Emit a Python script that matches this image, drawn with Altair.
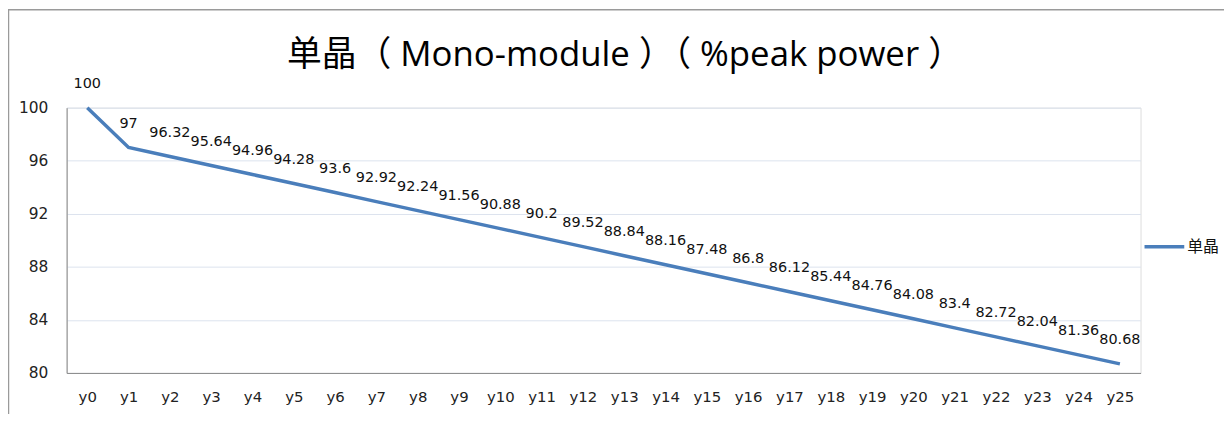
import altair as alt
import pandas as pd

years = ["y0", "y1", "y2", "y3", "y4", "y5", "y6", "y7", "y8", "y9", "y10", "y11", "y12",
         "y13", "y14", "y15", "y16", "y17", "y18", "y19", "y20", "y21", "y22", "y23", "y24", "y25"]
values = [100, 97, 96.32, 95.64, 94.96, 94.28, 93.6, 92.92, 92.24, 91.56, 90.88, 90.2, 89.52,
          88.84, 88.16, 87.48, 86.8, 86.12, 85.44, 84.76, 84.08, 83.4, 82.72, 82.04, 81.36, 80.68]
series_name = "单晶"
y_ticks = [80, 84, 88, 92, 96, 100]
title_text = "单晶（ Mono-module ）（ %peak power ）"

df = pd.DataFrame({"year": years, "value": values, "series": [series_name] * len(years)})

PLOT_W = 1081
PLOT_H = 267
NUM_FONT = "DejaVu Sans"
CJK_FONT = "Open Sans, Noto Sans CJK SC"

x_enc = alt.X("year:N", sort=years, scale=alt.Scale(type="point", padding=0.5),
              axis=alt.Axis(title=None, labelAngle=0, ticks=False, domain=True, domainColor="#888888",
                            labelPadding=17, labelFontSize=15, labelFont=NUM_FONT, labelColor="#222222",
                            grid=False))
y_enc = alt.Y("value:Q", scale=alt.Scale(domain=[80, 100], nice=False, zero=False),
              axis=alt.Axis(title=None, values=y_ticks, ticks=False, domain=True, domainColor="#888888",
                            labelPadding=19, labelFontSize=15.5, labelFont=NUM_FONT, labelColor="#222222",
                            grid=True, gridColor="#DCE3EE", gridWidth=1))

line = alt.Chart(df).mark_line(strokeWidth=3.5, clip=False).encode(
    x=x_enc,
    y=y_enc,
    color=alt.Color("series:N", scale=alt.Scale(range=["#4A7EBB"]),
                    legend=alt.Legend(title=None, orient="none", legendX=1083, legendY=118,
                                      symbolType="stroke", symbolSize=1600, symbolStrokeWidth=3.5,
                                      labelFontSize=16, labelFont="Noto Sans CJK SC", labelColor="#111111",
                                      labelOffset=1, padding=0)),
)

labels = alt.Chart(df).mark_text(dy=-24, fontSize=14.5, font=NUM_FONT, color="#111111", baseline="middle").encode(
    x=alt.X("year:N", sort=years),
    y=alt.Y("value:Q"),
    text=alt.Text("value:Q", format="~g"),
)

frame_df = pd.DataFrame({"k": [0]})
frame_left = alt.Chart(frame_df).mark_rule(color="#9A9A9A", strokeWidth=1.5, clip=False).encode(
    x=alt.value(-58.5), y=alt.value(-99), y2=alt.value(320))
frame_top = alt.Chart(frame_df).mark_rule(color="#9A9A9A", strokeWidth=1.5, clip=False).encode(
    y=alt.value(-98.5), x=alt.value(-59), x2=alt.value(1170))

title_df = pd.DataFrame({"t": [title_text]})
title = alt.Chart(title_df).mark_text(fontSize=35, font=CJK_FONT, color="#000000", align="center",
                                      baseline="alphabetic").encode(
    x=alt.value(562), y=alt.value(-42), text="t:N")

chart = alt.layer(frame_left, frame_top, line, labels, title).properties(
    width=PLOT_W,
    height=PLOT_H,
    autosize=alt.AutoSizeParams(type="none"),
    padding={"left": 59, "top": 99, "right": 84, "bottom": 40},
).configure_view(stroke=None).configure(background="white")

chart.save("out.html", embed_options={"renderer": "svg", "actions": False})
